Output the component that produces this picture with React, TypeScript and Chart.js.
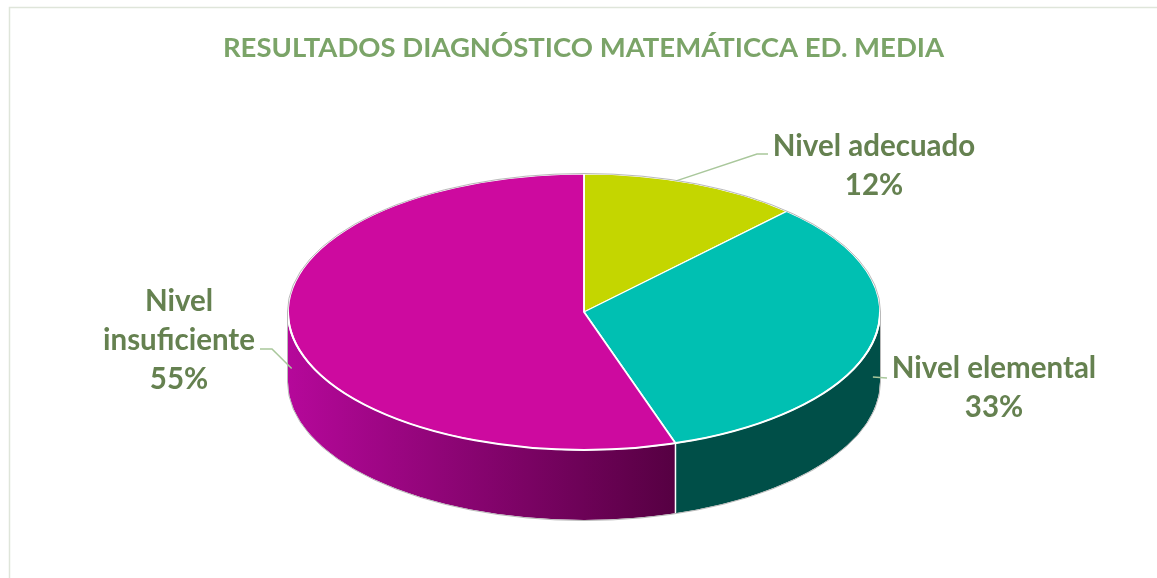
import React, { useEffect, useRef } from 'react';
import { Chart, registerables } from 'chart.js';

Chart.register(...registerables);

// ---------- data ----------
const categories = ['Nivel adecuado', 'Nivel elemental', 'Nivel insuficiente'];
const values = [12, 33, 55];
const labelLines = [['Nivel adecuado'], ['Nivel elemental'], ['Nivel', 'insuficiente']];
const titleText = 'RESULTADOS DIAGNÓSTICO MATEMÁTICCA ED. MEDIA';

// ---------- style ----------
const topColors = ['#c4d600', '#00c0b2', '#cd0a9f'];
const sideStops = [
  ['#6a7500', '#6a7500'],
  ['#004f48', '#004f48'],
  ['#b5089a', '#560042'],
];
const CX = 584;
const CY = 312;
const RX = 296;
const RY = 138;
const DEPTH = 70;
const LABEL_FONT = 'bold 29.5px Lato';
const LABEL_COLOR = '#658150';
const LEADER_COLOR = '#a9c79b';
const LINE_H = 39;
// label anchor (center x, first line center y), leader elbows, whether leader starts on side
const labelPos = [
  { x: 874, y: 146, elbows: [[757, 154], [768, 154]], onSide: false, frac: 0.42 },
  { x: 994, y: 368, elbows: [[887, 378]], onSide: true, frac: 0.5 },
  { x: 179, y: 301, elbows: [[272, 349], [260, 349]], onSide: true, frac: 0.5 },
];

const norm = (a: number) => {
  let r = a % (2 * Math.PI);
  if (r < 0) r += 2 * Math.PI;
  return r;
};

const pie3d = {
  id: 'pie3d',
  beforeDraw(chart: any) {
    const ctx = chart.ctx;
    ctx.save();
    ctx.fillStyle = '#ffffff';
    ctx.fillRect(0, 0, chart.width, chart.height);
    ctx.strokeStyle = '#dfe5da';
    ctx.lineWidth = 1.5;
    ctx.strokeRect(9.5, 7.5, chart.width + 20, chart.height + 20);
    ctx.restore();
  },
  beforeDatasetsDraw(chart: any) {
    const ctx = chart.ctx;
    const meta = chart.getDatasetMeta(0);
    const arcs = meta.data;
    // side walls
    arcs.forEach((arc: any, i: number) => {
      const p = arc.getProps(['startAngle', 'endAngle'], true);
      let s = p.startAngle;
      let e = p.endAngle;
      const shift = Math.floor(s / (2 * Math.PI)) * 2 * Math.PI;
      s -= shift;
      e -= shift;
      const ranges: [number, number][] = [];
      [[0, Math.PI], [2 * Math.PI, 3 * Math.PI]].forEach(([a, b]) => {
        const lo = Math.max(s, a);
        const hi = Math.min(e, b);
        if (hi > lo) ranges.push([lo, hi]);
      });
      ranges.forEach(([lo, hi]) => {
        const x1 = CX + RX * Math.cos(hi);
        const x2 = CX + RX * Math.cos(lo);
        const g = ctx.createLinearGradient(Math.min(x1, x2), 0, Math.max(x1, x2), 0);
        g.addColorStop(0, sideStops[i][0]);
        g.addColorStop(1, sideStops[i][1]);
        ctx.save();
        ctx.beginPath();
        ctx.ellipse(CX, CY, RX, RY, 0, lo, hi);
        ctx.ellipse(CX, CY + DEPTH, RX, RY, 0, hi, lo, true);
        ctx.closePath();
        ctx.fillStyle = g;
        ctx.fill();
        ctx.restore();
      });
    });
    // seams
    arcs.forEach((arc: any) => {
      const a = norm(arc.getProps(['startAngle'], true).startAngle);
      if (a > 0.01 && a < Math.PI - 0.01) {
        const x = CX + RX * Math.cos(a);
        const y = CY + RY * Math.sin(a);
        ctx.save();
        ctx.strokeStyle = '#ffffff';
        ctx.lineWidth = 1.5;
        ctx.beginPath();
        ctx.moveTo(x, y);
        ctx.lineTo(x, y + DEPTH);
        ctx.stroke();
        ctx.restore();
      }
    });
    // squash top face
    const a0 = arcs[0];
    const R = a0.outerRadius;
    ctx.save();
    ctx.translate(CX, CY);
    ctx.scale(RX / R, RY / R);
    ctx.translate(-a0.x, -a0.y);
  },
  afterDatasetsDraw(chart: any) {
    const ctx = chart.ctx;
    ctx.restore();
    const arcs = chart.getDatasetMeta(0).data;
    ctx.save();
    // front top edge white
    ctx.strokeStyle = '#ffffff';
    ctx.lineWidth = 2;
    ctx.beginPath();
    ctx.ellipse(CX, CY, RX, RY, 0, 0, Math.PI);
    ctx.stroke();
    // silhouette gray
    ctx.strokeStyle = '#b9b9b9';
    ctx.lineWidth = 1;
    ctx.beginPath();
    ctx.ellipse(CX, CY, RX + 0.5, RY + 0.5, 0, Math.PI, 2 * Math.PI);
    ctx.stroke();
    ctx.beginPath();
    ctx.moveTo(CX + RX + 0.5, CY);
    ctx.ellipse(CX, CY + DEPTH, RX + 0.5, RY + 0.5, 0, 0, Math.PI);
    ctx.lineTo(CX - RX - 0.5, CY);
    ctx.stroke();
    // labels & leaders
    const total = values.reduce((a, b) => a + b, 0);
    arcs.forEach((arc: any, i: number) => {
      const p = arc.getProps(['startAngle', 'endAngle'], true);
      const lp = labelPos[i];
      const mid = p.startAngle + (p.endAngle - p.startAngle) * lp.frac;
      const sx = CX + RX * Math.cos(mid);
      const sy = CY + RY * Math.sin(mid) + (lp.onSide ? DEPTH / 2 : 0);
      ctx.strokeStyle = LEADER_COLOR;
      ctx.lineWidth = 1.5;
      ctx.beginPath();
      ctx.moveTo(sx, sy);
      lp.elbows.forEach(([x, y]) => ctx.lineTo(x, y));
      ctx.stroke();
      ctx.fillStyle = LABEL_COLOR;
      ctx.font = LABEL_FONT;
      ctx.textAlign = 'center';
      ctx.textBaseline = 'middle';
      const lines = [...labelLines[i], Math.round((values[i] / total) * 100) + '%'];
      lines.forEach((t, k) => ctx.fillText(t, lp.x, lp.y + k * LINE_H));
    });
    ctx.restore();
  },
};

export default function App() {
  const ref = useRef<HTMLCanvasElement | null>(null);
  useEffect(() => {
    document.body.style.margin = '0';
    if (!ref.current) return;
    const chart = new Chart(ref.current, {
      type: 'pie',
      data: {
        labels: categories,
        datasets: [
          {
            data: values,
            backgroundColor: topColors,
            borderColor: '#ffffff',
            borderWidth: 1.5,
          },
        ],
      },
      options: {
        responsive: false,
        devicePixelRatio: 1,
        animation: false,
        layout: { padding: { left: 10, right: 0, top: 0, bottom: 20 } },
        plugins: {
          legend: { display: false },
          tooltip: { enabled: false },
          title: {
            display: true,
            text: titleText,
            color: '#7ba468',
            font: { family: 'Lato', size: 27.5, weight: 'bold' },
            padding: { top: 32, bottom: 20 },
          },
        },
      },
      plugins: [pie3d],
    });
    return () => chart.destroy();
  }, []);
  return <canvas ref={ref} width={1157} height={578} style={{ display: 'block' }} />;
}
